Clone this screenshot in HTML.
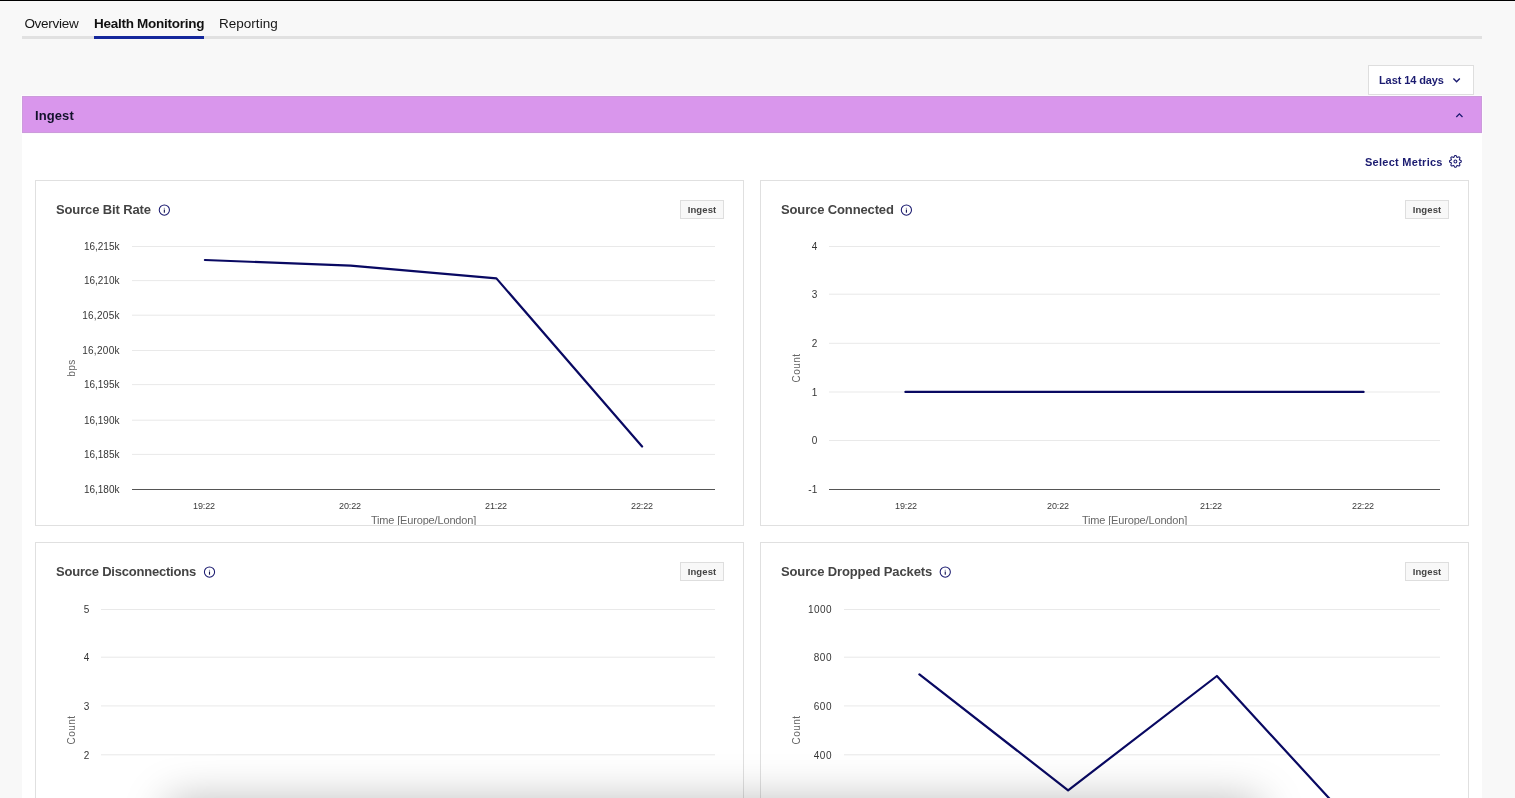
<!DOCTYPE html>
<html lang="en">
<head>
<meta charset="utf-8">
<title>Health Monitoring</title>
<style>
*{box-sizing:border-box;margin:0;padding:0}
button{font-family:inherit;border:0;background:none;text-align:left;cursor:pointer}
a{text-decoration:none;cursor:pointer}
h2,h3{font-weight:bold}
html,body{width:1515px;height:798px;overflow:hidden;background:#f8f8f8}
body{font-family:"Liberation Sans",sans-serif;position:relative;color:#222}
.abs{position:absolute}
#topline{position:absolute;left:0;top:0;width:1515px;height:1px;background:#000}
#tabline{position:absolute;left:22px;top:36px;width:1460px;height:3px;background:#e1e1e1}
#tabsel{position:absolute;left:94px;top:36px;width:110px;height:3px;background:#14279b}
.tab{position:absolute;top:15px;font-size:13.5px;line-height:17px;white-space:nowrap;color:#161616;letter-spacing:-0.27px}
.tab.sel{font-weight:bold;color:#111}
#range{position:absolute;left:1368px;top:65px;width:106px;height:30px;background:#fff;border:1px solid #dedede}
#range span{position:absolute;left:10px;top:7px;font-size:11px;line-height:14px;font-weight:bold;color:#1b1b70;white-space:nowrap;letter-spacing:-0.1px}
#bar{position:absolute;left:22px;top:96px;width:1460px;height:37px;background:#d996ec;box-shadow:inset 0 0 0 1px #cc9bdb,0 0 0 1px #fdfbfe}
#bar h2{position:absolute;left:13px;top:12px;font-size:13px;line-height:16px;font-weight:bold;color:#12122b;white-space:nowrap;letter-spacing:0.1px}
#panel{position:absolute;left:22px;top:96px;width:1460px;height:740px;background:#fff}
#sm{position:absolute;left:1365px;top:155px;font-size:11px;line-height:14px;font-weight:bold;color:#1b1b70;white-space:nowrap;letter-spacing:0.27px}
.card{position:absolute;width:709px;height:346px;border:1px solid #e0e0e0;background:#fff;overflow:hidden}
.ct{position:absolute;font-size:13px;line-height:20px;font-weight:bold;color:#444;white-space:nowrap;letter-spacing:-0.13px}
.info{position:absolute}
.badge{position:absolute;left:644px;top:19px;width:44px;height:19px;border:1px solid #dedede;background:#f8f8f8;font-size:9.5px;line-height:17px;font-weight:bold;color:#444;text-align:center;letter-spacing:0.1px}
.plot{position:absolute;left:0;top:0}
.yl{position:absolute;font-size:10px;line-height:13px;color:#363636;white-space:nowrap;text-align:right;letter-spacing:0.25px}
.yt{position:absolute;width:0;height:0}
.yt span{position:absolute;left:0;top:0;transform:translate(-50%,-50%) rotate(-90deg);font-size:10px;line-height:12px;color:#666;white-space:nowrap;display:block;letter-spacing:0.5px}
.xl{position:absolute;width:40px;text-align:center;font-size:9px;line-height:11px;color:#3a3a3a;white-space:nowrap;letter-spacing:-0.1px}
.xt{position:absolute;width:120px;text-align:center;font-size:11px;line-height:13px;color:#686868;white-space:nowrap;letter-spacing:-0.16px}
#shadow{position:absolute;left:168px;top:800px;width:1092px;height:100px;border-radius:4px;box-shadow:0 0 44px rgba(0,0,0,0.27)}
</style>
</head>
<body>
<div id="topline"></div>
<nav>
<div id="tabline"></div><div id="tabsel"></div>
<a class="tab" style="left:24.4px">Overview</a>
<a class="tab sel" style="left:94px">Health Monitoring</a>
<a class="tab" style="left:219px;letter-spacing:0.02px">Reporting</a>
</nav>
<button id="range" type="button"><span>Last 14 days</span><svg class="abs" style="left:82px;top:8px" width="12" height="12" viewBox="0 0 12 12"><path d="M2.4 4.5 L5.6 7.7 L8.8 4.5" fill="none" stroke="#1b1b70" stroke-width="1.4"/></svg></button>
<main>
<div id="panel"></div>
<header id="bar"><h2>Ingest</h2><svg class="abs" style="left:1431px;top:13px" width="12" height="12" viewBox="0 0 12 12"><path d="M3.3 7.95 L6.4 4.85 L9.5 7.95" fill="none" stroke="#1b1b70" stroke-width="1.35"/></svg></header>
<button id="sm" type="button">Select Metrics</button>
<svg class="abs" style="left:1447px;top:153px" width="16" height="16" viewBox="0 0 16 16" fill="none" stroke="#1b1b70" stroke-width="1.05" stroke-linejoin="round"><path d="M7.78 2.58 L9.02 2.58 L10.03 4.52 L12.11 3.86 L12.99 4.74 L12.33 6.82 L14.27 7.83 L14.27 9.07 L12.33 10.08 L12.99 12.16 L12.11 13.04 L10.03 12.38 L9.02 14.32 L7.78 14.32 L6.77 12.38 L4.69 13.04 L3.81 12.16 L4.47 10.08 L2.53 9.07 L2.53 7.83 L4.47 6.82 L3.81 4.74 L4.69 3.86 L6.77 4.52 Z"/><circle cx="8.4" cy="8.45" r="1.45"/></svg>
<section class="card" style="left:35px;top:180px">
<h3 class="ct" style="left:20px;top:19px">Source Bit Rate</h3>
<svg class="info" style="left:121px;top:22px" width="15" height="15" viewBox="0 0 15 15"><circle cx="7.35" cy="7.10" r="5.1" fill="none" stroke="#1b1b70" stroke-width="1.05"/><rect x="6.80" y="6.50" width="1.1" height="3.2" fill="#15154f"/><rect x="6.80" y="4.80" width="1.1" height="1" fill="#15154f" opacity="0.55"/></svg>
<span class="badge">Ingest</span>
<svg class="plot" width="707" height="644" viewBox="0 0 707 644">
<rect x="96" y="65" width="583" height="1" fill="#e9e9e9"/>
<rect x="96" y="99.1" width="583" height="1" fill="#e9e9e9"/>
<rect x="96" y="133.7" width="583" height="1" fill="#e9e9e9"/>
<rect x="96" y="169" width="583" height="1" fill="#e9e9e9"/>
<rect x="96" y="203.1" width="583" height="1" fill="#e9e9e9"/>
<rect x="96" y="238.7" width="583" height="1" fill="#e9e9e9"/>
<rect x="96" y="272.9" width="583" height="1" fill="#e9e9e9"/>
<rect x="96" y="308" width="583" height="1" fill="#555"/>
<polyline points="168.9,79.0 314.6,84.7 460.4,97.4 606.1,265.5" fill="none" stroke="#090962" stroke-width="2.2" stroke-linejoin="round" stroke-linecap="round"/>
</svg>
<div class="yl" style="right:623.50px;top:59px;letter-spacing:0.0px">16,215k</div>
<div class="yl" style="right:623.50px;top:93px;letter-spacing:0.0px">16,210k</div>
<div class="yl" style="right:623.20px;top:128px;letter-spacing:0.3px">16,205k</div>
<div class="yl" style="right:623.20px;top:163px;letter-spacing:0.3px">16,200k</div>
<div class="yl" style="right:623.50px;top:197px;letter-spacing:0.0px">16,195k</div>
<div class="yl" style="right:623.50px;top:233px;letter-spacing:0.0px">16,190k</div>
<div class="yl" style="right:623.50px;top:267px;letter-spacing:0.0px">16,185k</div>
<div class="yl" style="right:623.50px;top:302px;letter-spacing:0.0px">16,180k</div>
<div class="yt" style="left:36px;top:186.5px"><span>bps</span></div>
<div class="xl" style="left:148px;top:320px">19:22</div>
<div class="xl" style="left:294px;top:320px">20:22</div>
<div class="xl" style="left:440px;top:320px">21:22</div>
<div class="xl" style="left:586px;top:320px">22:22</div>
<div class="xt" style="left:327.5px;top:333px">Time [Europe/London]</div>
</section>
<section class="card" style="left:760px;top:180px">
<h3 class="ct" style="left:20px;top:19px">Source Connected</h3>
<svg class="info" style="left:138px;top:22px" width="15" height="15" viewBox="0 0 15 15"><circle cx="7.40" cy="7.10" r="5.1" fill="none" stroke="#1b1b70" stroke-width="1.05"/><rect x="6.85" y="6.50" width="1.1" height="3.2" fill="#15154f"/><rect x="6.85" y="4.80" width="1.1" height="1" fill="#15154f" opacity="0.55"/></svg>
<span class="badge">Ingest</span>
<svg class="plot" width="707" height="644" viewBox="0 0 707 644">
<rect x="68" y="65" width="611" height="1" fill="#e9e9e9"/>
<rect x="68" y="112.7" width="611" height="1" fill="#e9e9e9"/>
<rect x="68" y="161.8" width="611" height="1" fill="#e9e9e9"/>
<rect x="68" y="210.5" width="611" height="1" fill="#e9e9e9"/>
<rect x="68" y="259" width="611" height="1" fill="#e9e9e9"/>
<rect x="68" y="308" width="611" height="1" fill="#555"/>
<polyline points="144.4,210.9 602.6,210.9" fill="none" stroke="#090962" stroke-width="2.2" stroke-linejoin="round" stroke-linecap="round"/>
</svg>
<div class="yl" style="right:650.80px;top:59px;letter-spacing:0px">4</div>
<div class="yl" style="right:650.80px;top:107px;letter-spacing:0px">3</div>
<div class="yl" style="right:650.80px;top:156px;letter-spacing:0px">2</div>
<div class="yl" style="right:650.80px;top:205px;letter-spacing:0px">1</div>
<div class="yl" style="right:650.80px;top:253px;letter-spacing:0px">0</div>
<div class="yl" style="right:650.80px;top:302px;letter-spacing:0px">-1</div>
<div class="yt" style="left:36px;top:186.5px"><span>Count</span></div>
<div class="xl" style="left:125px;top:320px">19:22</div>
<div class="xl" style="left:277px;top:320px">20:22</div>
<div class="xl" style="left:430px;top:320px">21:22</div>
<div class="xl" style="left:582px;top:320px">22:22</div>
<div class="xt" style="left:313.5px;top:333px">Time [Europe/London]</div>
</section>
<section class="card" style="left:35px;top:542px">
<h3 class="ct" style="left:20px;top:19px;letter-spacing:-0.215px">Source Disconnections</h3>
<svg class="info" style="left:166px;top:22px" width="15" height="15" viewBox="0 0 15 15"><circle cx="7.50" cy="7.10" r="5.1" fill="none" stroke="#1b1b70" stroke-width="1.05"/><rect x="6.95" y="6.50" width="1.1" height="3.2" fill="#15154f"/><rect x="6.95" y="4.80" width="1.1" height="1" fill="#15154f" opacity="0.55"/></svg>
<span class="badge">Ingest</span>
<svg class="plot" width="707" height="644" viewBox="0 0 707 644">
<rect x="65" y="66" width="614" height="1" fill="#e9e9e9"/>
<rect x="65" y="113.7" width="614" height="1" fill="#e9e9e9"/>
<rect x="65" y="162.4" width="614" height="1" fill="#e9e9e9"/>
<rect x="65" y="211.3" width="614" height="1" fill="#e9e9e9"/>
</svg>
<div class="yl" style="right:653.80px;top:60px;letter-spacing:0px">5</div>
<div class="yl" style="right:653.80px;top:108px;letter-spacing:0px">4</div>
<div class="yl" style="right:653.80px;top:157px;letter-spacing:0px">3</div>
<div class="yl" style="right:653.80px;top:206px;letter-spacing:0px">2</div>
<div class="yt" style="left:36px;top:186.5px"><span>Count</span></div>
</section>
<section class="card" style="left:760px;top:542px">
<h3 class="ct" style="left:20px;top:19px">Source Dropped Packets</h3>
<svg class="info" style="left:177px;top:22px" width="15" height="15" viewBox="0 0 15 15"><circle cx="7.25" cy="7.10" r="5.1" fill="none" stroke="#1b1b70" stroke-width="1.05"/><rect x="6.70" y="6.50" width="1.1" height="3.2" fill="#15154f"/><rect x="6.70" y="4.80" width="1.1" height="1" fill="#15154f" opacity="0.55"/></svg>
<span class="badge">Ingest</span>
<svg class="plot" width="707" height="644" viewBox="0 0 707 644">
<rect x="83" y="66" width="596" height="1" fill="#e9e9e9"/>
<rect x="83" y="113.7" width="596" height="1" fill="#e9e9e9"/>
<rect x="83" y="162.4" width="596" height="1" fill="#e9e9e9"/>
<rect x="83" y="211.3" width="596" height="1" fill="#e9e9e9"/>
<polyline points="158.4,131.4 307.1,247.3 455.9,133.0 604.6,295.0" fill="none" stroke="#090962" stroke-width="2.2" stroke-linejoin="round" stroke-linecap="round"/>
</svg>
<div class="yl" style="right:636.10px;top:60px;letter-spacing:0.4px">1000</div>
<div class="yl" style="right:636.00px;top:108px;letter-spacing:0.5px">800</div>
<div class="yl" style="right:636.00px;top:157px;letter-spacing:0.5px">600</div>
<div class="yl" style="right:636.00px;top:206px;letter-spacing:0.5px">400</div>
<div class="yt" style="left:36px;top:186.5px"><span>Count</span></div>
</section>
</main>
<div id="shadow"></div>
</body></html>
